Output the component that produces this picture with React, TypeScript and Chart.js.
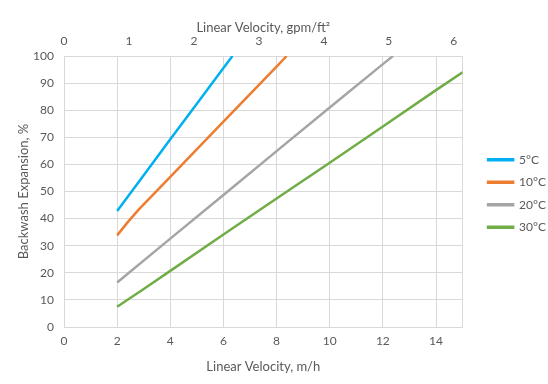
import React, { useEffect, useRef } from "react";
import { Chart, registerables } from "chart.js";

Chart.register(...registerables);

// Series labels and colours
const seriesLabels = ["5°C", "10°C", "20°C", "30°C"];
const seriesColors = ["#00B0F0", "#ED7D31", "#A5A5A5", "#70AD47"];

// Linear velocity (m/h) and backwash expansion (%) per series
const x5 = [2, 3, 4, 5, 6, 6.34];
const y5 = [42.8, 56, 69.3, 82.4, 95.6, 100];
const x10 = [2, 2.4, 2.8, 4, 6, 8, 8.38];
const y10 = [33.8, 38.7, 43.2, 55.4, 75.8, 96.1, 100];
const x20 = [2, 4, 6, 8, 10, 12, 12.38];
const y20 = [16.4, 32.6, 48.7, 64.9, 81, 97, 100];
const x30 = [2, 3, 4, 6, 8, 10, 12, 14, 15];
const y30 = [7.5, 14, 20.7, 34.1, 47.4, 60.6, 74, 87.4, 94];

const seriesX = [x5, x10, x20, x30];
const seriesY = [y5, y10, y20, y30];

// Axis ranges
const xMin = 0;
const xMax = 15;
const xStep = 2;
const yMin = 0;
const yMax = 100;
const yStep = 10;
const mhPerGpmFt2 = 2.4448; // 1 gpm/ft² = 2.4448 m/h

const textColor = "#595959";
const gridColor = "#D9D9D9";
const fontFamily = "Lato, 'Open Sans', sans-serif";

export default function App() {
  const canvasRef = useRef<HTMLCanvasElement | null>(null);

  useEffect(() => {
    if (!canvasRef.current) return;
    const datasets = seriesLabels.map((label, i) => ({
      label,
      data: seriesX[i].map((x, j) => ({ x, y: seriesY[i][j] })),
      borderColor: seriesColors[i],
      backgroundColor: seriesColors[i],
      borderWidth: 2.5,
      pointRadius: 0,
      tension: 0,
      xAxisID: "x",
      yAxisID: "y",
    }));

    const chart = new Chart(canvasRef.current, {
      type: "line",
      data: { datasets },
      options: {
        responsive: false,
        animation: false,
        layout: { padding: { left: 12, top: 10, bottom: 7, right: -8 } },
        plugins: {
          tooltip: { enabled: false },
          legend: {
            position: "right",
            align: "center",
            labels: {
              boxWidth: 25,
              boxHeight: 1,
              padding: 10.5,
              color: textColor,
              font: { family: fontFamily, size: 12 },
            },
          },
        },
        scales: {
          x: {
            type: "linear",
            position: "bottom",
            min: xMin,
            max: xMax,
            ticks: {
              stepSize: xStep,
              includeBounds: false,
              padding: 7,
              color: textColor,
              font: { family: fontFamily, size: 12 },
            },
            grid: { color: gridColor, drawTicks: false, lineWidth: 1 },
            border: { color: gridColor },
            title: {
              display: true,
              text: "Linear Velocity, m/h",
              color: textColor,
              font: { family: fontFamily, size: 13 },
              padding: { top: 4, bottom: 2 },
            },
            afterFit: (s: any) => {
              s.height = 50;
            },
          },
          x2: {
            type: "linear",
            position: "top",
            min: xMin / mhPerGpmFt2,
            max: xMax / mhPerGpmFt2,
            ticks: {
              stepSize: 1,
              includeBounds: false,
              padding: 8,
              color: textColor,
              font: { family: fontFamily, size: 12 },
            },
            grid: { display: false, drawTicks: false },
            border: { display: true, color: gridColor },
            title: {
              display: true,
              text: "Linear Velocity, gpm/ft²",
              color: textColor,
              font: { family: fontFamily, size: 13 },
              padding: { top: 10, bottom: 4 },
            },
            afterFit: (s: any) => {
              s.height = 46;
            },
          },
          y: {
            type: "linear",
            position: "left",
            min: yMin,
            max: yMax,
            ticks: {
              stepSize: yStep,
              padding: 10,
              color: textColor,
              font: { family: fontFamily, size: 12 },
            },
            grid: { color: gridColor, drawTicks: false },
            border: { color: gridColor },
            title: {
              display: true,
              text: "Backwash Expansion, %",
              color: textColor,
              font: { family: fontFamily, size: 13 },
              padding: { top: 4, bottom: 4 },
            },
            afterFit: (s: any) => {
              s.width = 52;
            },
          },
          yRight: {
            type: "linear",
            position: "right",
            min: yMin,
            max: yMax,
            ticks: { display: false },
            grid: { display: false, drawTicks: false },
            border: { display: true, color: gridColor },
            afterFit: (s: any) => {
              s.width = 15;
            },
          },
        },
      },
    });
    return () => chart.destroy();
  }, []);

  return (
    <div style={{ position: "absolute", left: 0, top: 0, width: 548, height: 384, background: "#fff" }}>
      <canvas ref={canvasRef} width={548} height={384} />
    </div>
  );
}
